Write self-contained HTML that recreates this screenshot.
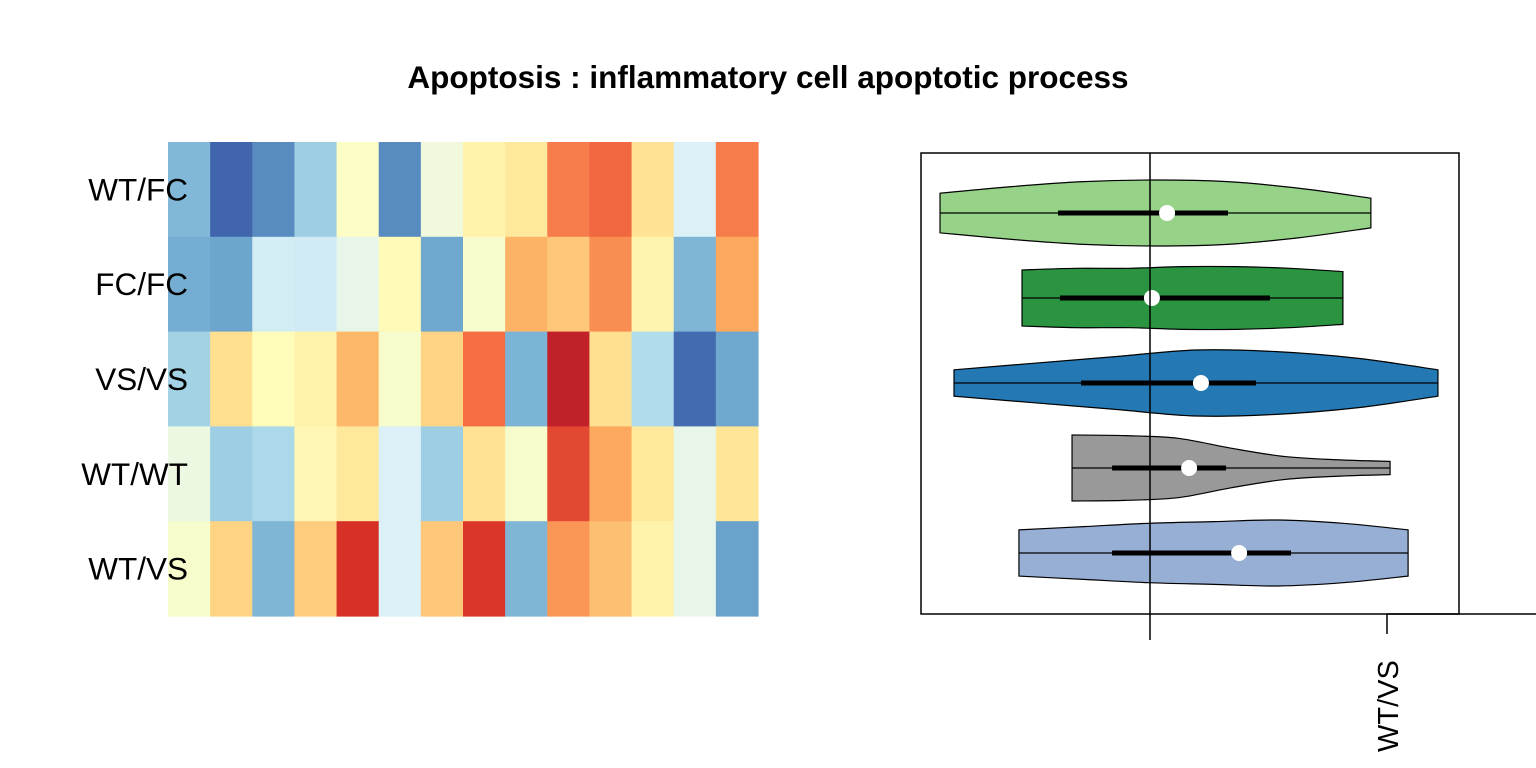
<!DOCTYPE html>
<html><head><meta charset="utf-8"><style>
body{margin:0;background:#fff;}
svg{display:block;font-family:"Liberation Sans",Arial,sans-serif;}
</style></head><body>
<svg id="chart" width="1536" height="768" viewBox="0 0 1536 768">
<text x="768" y="88" text-anchor="middle" font-size="31.5" font-weight="bold">Apoptosis : inflammatory cell apoptotic process</text>
<g id="heat"></g>
<g id="rowlabels"></g>
<rect x="921" y="153" width="538" height="461" fill="none" stroke="#000" stroke-width="1.5"/>
<g id="vio"></g>
<line x1="1150" y1="153" x2="1150" y2="640" stroke="#000" stroke-width="1.5"/>
<line x1="1387" y1="614" x2="1536" y2="614" stroke="#000" stroke-width="1.5"/>
<line x1="1387" y1="614" x2="1387" y2="634" stroke="#000" stroke-width="1.5"/>
<text transform="translate(1398,752) rotate(-90)" font-size="29">WT/VS</text>
</svg>
<script>
const rows = ["WT/FC","FC/FC","VS/VS","WT/WT","WT/VS"];
const heatRow1 = [-0.55,-0.85,-0.72,-0.45,-0.02,-0.72,-0.1,0.08,0.15,0.55,0.62,0.18,-0.22,0.55];
const heatRow2 = [-0.6,-0.63,-0.25,-0.26,-0.15,0.03,-0.62,-0.05,0.38,0.3,0.5,0.07,-0.56,0.42];
const heatRow3 = [-0.43,0.2,0.02,0.08,0.36,-0.05,0.25,0.6,-0.57,0.92,0.2,-0.38,-0.83,-0.62];
const heatRow4 = [-0.12,-0.45,-0.4,0.05,0.15,-0.22,-0.45,0.18,-0.05,0.72,0.42,0.15,-0.15,0.17];
const heatRow5 = [-0.05,0.25,-0.56,0.28,0.8,-0.22,0.3,0.78,-0.56,0.47,0.33,0.08,-0.15,-0.64];
const heatData = [heatRow1,heatRow2,heatRow3,heatRow4,heatRow5];

const vioGroups = ["WT/FC","FC/FC","VS/VS","WT/WT","WT/VS"];
const vioColors = ["#96d389","#2a9441","#2479b4","#999999","#98afd5"];
const vioMin = [-0.886,-0.540,-0.827,-0.329,-0.553];
const vioMax = [0.932,0.814,1.215,1.013,1.089];
const vioQ1 = [-0.388,-0.380,-0.291,-0.160,-0.160];
const vioQ3 = [0.329,0.506,0.447,0.321,0.595];
const vioMed = [0.072,0.008,0.215,0.165,0.376];
const vioDens1 = [0.6,0.8,0.95,1,0.95,0.75,0.45];
const vioDens2 = [0.85,0.9,0.9,0.95,0.95,0.9,0.8];
const vioDens3 = [0.4,0.6,0.8,1,0.95,0.75,0.4];
const vioDens4 = [1,0.98,0.9,0.6,0.35,0.25,0.2];
const vioDens5 = [0.7,0.8,0.9,0.95,1,0.9,0.7];
const vioDens = [vioDens1,vioDens2,vioDens3,vioDens4,vioDens5];

const NS="http://www.w3.org/2000/svg";
const pal=["#b2182b","#d73027","#f46d43","#fdae61","#fee090","#ffffbf","#e0f3f8","#abd9e9","#74add1","#4575b4","#313695"];
function hex(c){return [1,3,5].map(i=>parseInt(c.substr(i,2),16));}
function colorOf(v){let t=(1-Math.max(-1,Math.min(1,v)))/2*10;let i=Math.min(9,Math.floor(t)),f=t-i;
 const a=hex(pal[i]),b=hex(pal[i+1]);return "rgb("+a.map((x,k)=>Math.round(x+(b[k]-x)*f)).join(",")+")";}
const hx0=168,hx1=758,hy0=142,hy1=616;
const cw=(hx1-hx0)/heatRow1.length, ch=(hy1-hy0)/rows.length;
const heat=document.getElementById("heat"), rl=document.getElementById("rowlabels");
heatData.forEach((row,r)=>{
 row.forEach((v,c)=>{
  const el=document.createElementNS(NS,"rect");
  el.setAttribute("x",hx0+c*cw);el.setAttribute("y",hy0+r*ch);
  el.setAttribute("width",cw+0.6);el.setAttribute("height",ch+0.6);
  el.setAttribute("fill",colorOf(v));
  
  
  heat.appendChild(el);
 });
 const t=document.createElementNS(NS,"text");
 t.setAttribute("x",188);t.setAttribute("y",hy0+(r+0.5)*ch+11);
 t.setAttribute("text-anchor","end");t.setAttribute("font-size","31.5");
 t.textContent=rows[r];
 
 
 rl.appendChild(t);
});
const xs=v=>1150+v*237;
const ys=i=>213+i*85;
const maxHalf=33;
const vio=document.getElementById("vio");
function spline(pts){let d="M"+pts[0][0]+","+pts[0][1];
 for(let i=0;i<pts.length-1;i++){const p0=pts[Math.max(0,i-1)],p1=pts[i],p2=pts[i+1],p3=pts[Math.min(pts.length-1,i+2)];
  const c1=[p1[0]+(p2[0]-p0[0])/6,p1[1]+(p2[1]-p0[1])/6],c2=[p2[0]-(p3[0]-p1[0])/6,p2[1]-(p3[1]-p1[1])/6];
  d+=" C"+c1+" "+c2+" "+p2;}return d;}
vioGroups.forEach((g,i)=>{
 const cy=ys(i),dens=vioDens[i],n=dens.length;
 const top=dens.map((d,k)=>[xs(vioMin[i]+(vioMax[i]-vioMin[i])*k/(n-1)),cy-d*maxHalf]);
 const bot=dens.map((d,k)=>[xs(vioMin[i]+(vioMax[i]-vioMin[i])*k/(n-1)),cy+d*maxHalf]).reverse();
 let d=spline(top)+" L"+bot[0]+" "+spline(bot).slice(1)+" Z";
 const p=document.createElementNS(NS,"path");
 p.setAttribute("d",d);p.setAttribute("fill",vioColors[i]);p.setAttribute("stroke","#000");p.setAttribute("stroke-width","1.2");
 
 
 vio.appendChild(p);
 const w=document.createElementNS(NS,"line");
 w.setAttribute("x1",xs(vioMin[i]));w.setAttribute("x2",xs(vioMax[i]));w.setAttribute("y1",cy);w.setAttribute("y2",cy);
 w.setAttribute("stroke","#000");w.setAttribute("stroke-width","1.2");
 
 
 vio.appendChild(w);
 const q=document.createElementNS(NS,"line");
 q.setAttribute("x1",xs(vioQ1[i]));q.setAttribute("x2",xs(vioQ3[i]));q.setAttribute("y1",cy);q.setAttribute("y2",cy);
 q.setAttribute("stroke","#000");q.setAttribute("stroke-width","5");
 
 
 vio.appendChild(q);
 const m=document.createElementNS(NS,"circle");
 m.setAttribute("cx",xs(vioMed[i]));m.setAttribute("cy",cy);m.setAttribute("r",8);m.setAttribute("fill","#fff");
 
 
 vio.appendChild(m);
});
</script>
</body></html>
